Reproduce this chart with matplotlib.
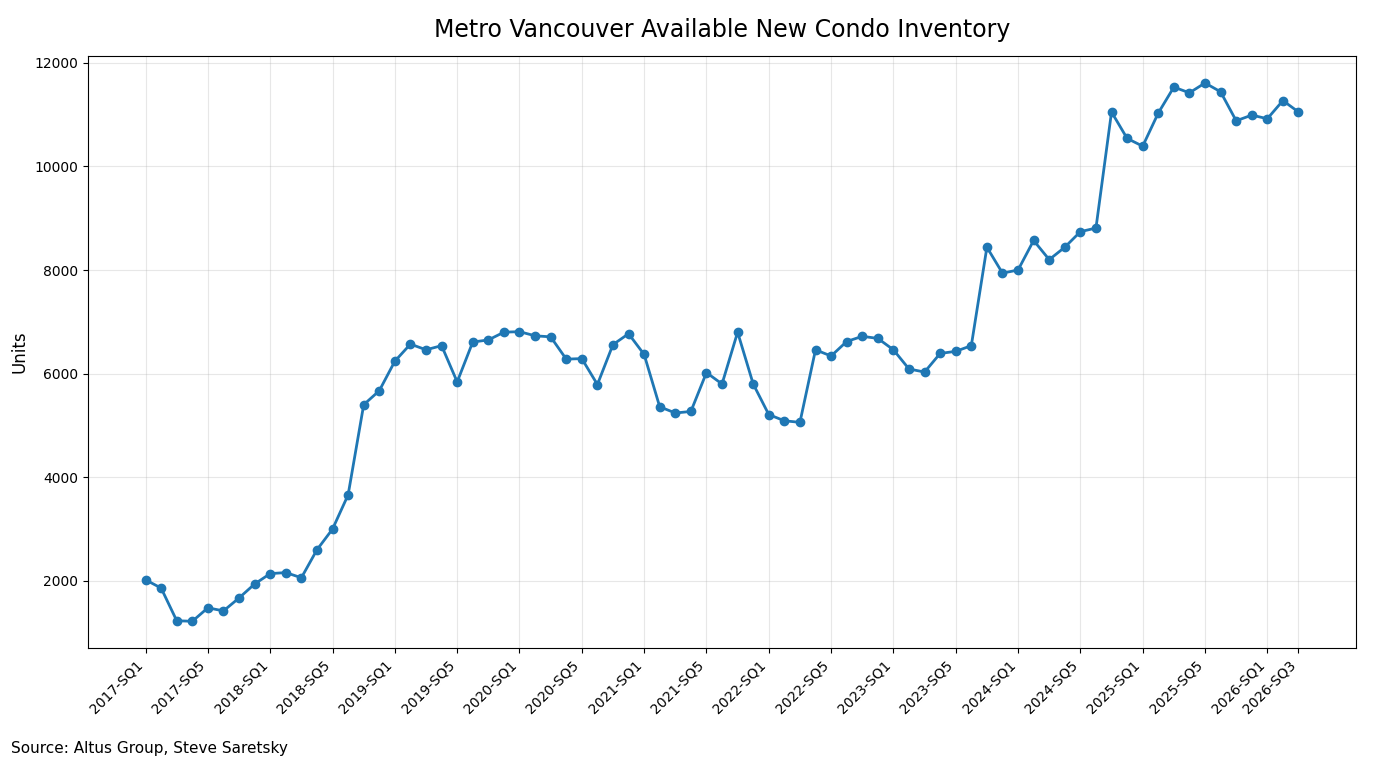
import numpy as np
import matplotlib.pyplot as plt

# inventory per semi-quarter
units = [2020, 1860, 1230, 1220, 1480, 1420, 1670, 1940,
         2140, 2160, 2060, 2600, 3000, 3660, 5400, 5670,
         6240, 6570, 6460, 6540, 5840, 6610, 6650, 6800,
         6810, 6730, 6710, 6280, 6290, 5790, 6560, 6770,
         6370, 5360, 5240, 5270, 6020, 5800, 6800, 5800,
         5210, 5090, 5060, 6460, 6340, 6620, 6720, 6680,
         6460, 6090, 6030, 6390, 6430, 6540, 8440, 7940,
         8000, 8570, 8200, 8440, 8740, 8810, 11050, 10540,
         10390, 11030, 11530, 11420, 11610, 11440, 10880, 10990,
         10920, 11270, 11050]

labels = [f"{2017 + i // 8}-SQ{i % 8 + 1}" for i in range(len(units))]
x = np.arange(len(units))

fig, ax = plt.subplots(figsize=(13.74, 7.68), dpi=100)
fig.subplots_adjust(left=0.064, right=0.987, top=0.927, bottom=0.156)

ax.plot(x, units, marker='o', color='#1f77b4', linewidth=2, markersize=6)

# label every 4th period plus the last one
ticks = list(range(0, len(units), 4))
if ticks[-1] != len(units) - 1:
    ticks.append(len(units) - 1)
ax.set_xticks(ticks)
ax.set_xticklabels([labels[t] for t in ticks], rotation=45, ha='right')

ax.set_ylabel('Units', fontsize=12)
ax.set_title('Metro Vancouver Available New Condo Inventory', fontsize=17, pad=14)
ax.grid(True, alpha=0.3)

fig.text(0.008, 0.02, 'Source: Altus Group, Steve Saretsky', fontsize=11)

fig.savefig('out.png')
